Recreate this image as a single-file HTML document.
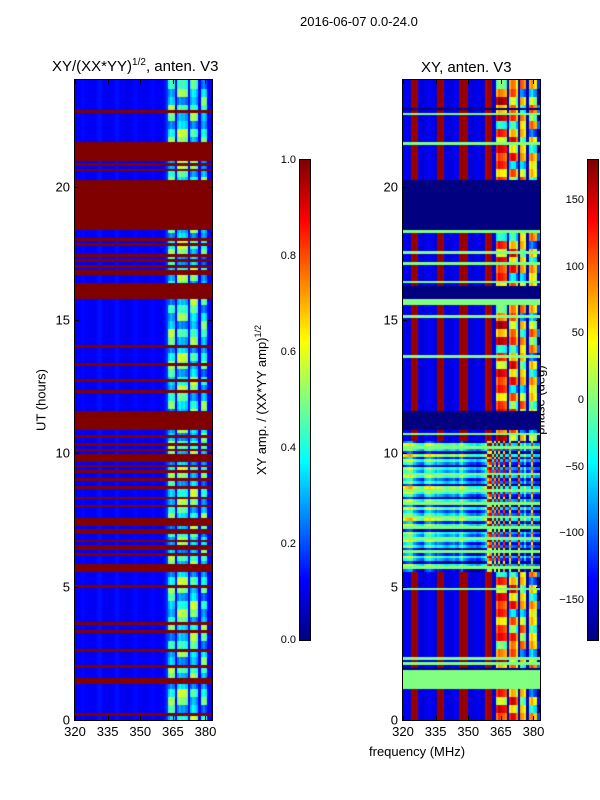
<!DOCTYPE html>
<html><head><meta charset="utf-8">
<style>
body{margin:0;background:#fff;width:600px;height:800px;position:relative;overflow:hidden;font-family:"Liberation Sans","DejaVu Sans",sans-serif;color:#000}
.t{position:absolute;white-space:nowrap;font-size:13px}
.tk{position:absolute;font-size:13px;white-space:nowrap}
.ctk{position:absolute;font-size:11px;white-space:nowrap}
canvas{position:absolute}
.frame{position:absolute;border:1px solid #000;box-sizing:border-box;pointer-events:none}
</style></head><body>
<div class="t" style="left:300px;top:14px">2016-06-07 0.0-24.0</div>
<div class="t" style="left:52px;top:57px;font-size:15px">XY/(XX*YY)<sup style="font-size:10px">1/2</sup>, anten. V3</div>
<div class="t" style="left:421px;top:59px;font-size:15px">XY, anten. V3</div>
<div class="t" style="left:41px;top:400px;transform:translate(-50%,-50%) rotate(-90deg)">UT (hours)</div>
<div class="t" style="left:261px;top:400px;transform:translate(-50%,-50%) rotate(-90deg)">XY amp. / (XX*YY amp)<sup style="font-size:9px">1/2</sup></div>
<div class="t" style="left:540px;top:400px;transform:translate(-50%,-50%) rotate(-90deg)">phase (deg)</div>
<div class="t" style="left:369px;top:744px">frequency (MHz)</div>

<canvas id="left" width="137" height="640" style="left:75px;top:80px"></canvas>
<canvas id="right" width="137" height="640" style="left:403px;top:80px"></canvas>
<canvas id="cb1" width="10" height="480" style="left:300px;top:160px"></canvas>
<canvas id="cb2" width="10" height="480" style="left:588px;top:160px"></canvas>
<div class="frame" style="left:74px;top:79px;width:139px;height:642px"></div>
<div class="frame" style="left:402px;top:79px;width:139px;height:642px"></div>
<div class="frame" style="left:299px;top:159px;width:12px;height:482px"></div>
<div class="frame" style="left:587px;top:159px;width:12px;height:482px"></div>
<div id="ticks"></div>

<script>
// ---- data ----
const hours = [0,5,10,15,20];
const freqTicks = [320,335,350,365,380];
const ampTicks = [0.0,0.2,0.4,0.6,0.8,1.0];
const phaseTicks = [-150,-100,-50,0,50,100,150];
const fMin = 320, fMax = 383, tMin = 0, tMax = 24;
// left amplitude profile per MHz (320..382)
const ampProfile = [0.11,0.12,0.12,0.13,0.13,0.12,0.12,0.11,0.11,0.12,0.13,0.14,0.13,0.12,0.11,0.11,0.11,0.12,0.13,0.14,0.13,0.12,0.11,0.1,0.11,0.11,0.12,0.13,0.13,0.12,0.12,0.11,0.11,0.11,0.12,0.13,0.13,0.12,0.12,0.11,0.12,0.14,0.18,0.3,0.36,0.32,0.12,0.33,0.38,0.34,0.36,0.32,0.12,0.32,0.38,0.36,0.3,0.12,0.3,0.34,0.28,0.12,0.12];
// patch variation for high-freq region, per 0.3h block
const ampRowPattern = [0.0,0.12,0.2,0.05,-0.08,0.15,0.22,0.0,-0.05,0.1,-0.1,0.18,0.08,-0.04];
// left flagged (dark red) bands, hours [start,end]
const ampFlags = [[22.8,22.92],[21.0,21.67],[20.8,20.9],[20.6,20.68],[18.37,20.3],[18.05,18.13],[17.8,17.88],[17.45,17.53],[17.25,17.33],[17.0,17.12],[16.7,16.95],[15.8,16.4],[15.7,15.75],[14.0,14.06],[13.3,13.38],[12.75,12.85],[12.3,12.36],[10.9,11.6],[10.6,10.75],[10.35,10.45],[10.1,10.18],[9.75,10.0],[9.5,9.62],[9.3,9.42],[9.0,9.1],[8.7,8.85],[8.35,8.45],[8.0,8.06],[7.3,7.6],[7.05,7.2],[6.75,6.82],[6.45,6.56],[6.2,6.28],[5.6,5.9],[5.0,5.1],[3.6,3.72],[3.3,3.36],[2.6,2.66],[2.05,2.12],[1.45,1.57],[0.2,0.28]];
// right phase profile per MHz (deg)
const phaseProfile = [-140,-138,-140,-145,170,175,170,-140,-145,-150,-145,-140,-138,-140,-145,-150,170,175,170,-140,-145,-150,-145,-140,-138,-140,170,175,172,170,-140,-150,-148,-145,-140,-142,-150,-148,160,172,168,-150,-150,90,120,110,100,90,-160,70,100,90,40,-160,60,50,30,-160,40,60,30,20,-150];
const phaseRowPattern = [0,40,-80,20,-140,50,-40,60,-20,-110,30,10,-60,20];
// noisy interval on right (hours) uses alternative profile
const phaseNoisy = [[5.6,10.5]];
const noisyProfile = [-40,-30,-20,-10,-20,-60,-80,-90,-100,-110,-60,-40,-30,-50,-60,-80,-60,-70,-80,-90,-100,-90,-80,-70,-90,-100,-60,-40,-80,-100,-110,-120,-120,-110,-130,-120,-100,-90,-60,80,120,-100,100,-130,110,-120,140,-130,-140,60,-120,-130,-140,120,-100,-130,-60,-140,-120,60,-130,-150,-150];
const noisyRowPattern = [0,60,-40,90,-80,30,-20,70,-60,10,50,-90];
// right flagged bands: navy = -180, green = 0
const phaseNavy = [[22.92,23.0],[21.6,21.65],[18.4,20.3],[17.0,17.05],[15.85,16.35],[10.9,11.6],[13.3,13.35],[9.0,9.05],[5.0,5.05],[3.6,3.65],[1.1,1.15],[1.95,2.0]];
const phaseGreen = [[22.7,22.85],[21.65,21.72],[20.3,20.35],[18.3,18.37],[17.55,17.6],[17.15,17.2],[16.4,16.5],[15.6,15.8],[15.1,15.17],[13.65,13.72],[10.75,10.85],[10.2,10.26],[9.2,9.3],[8.6,8.66],[8.1,8.16],[7.6,7.68],[7.2,7.26],[6.85,6.95],[6.35,6.42],[5.7,5.76],[4.9,4.96],[2.35,2.42],[2.15,2.22],[1.2,1.9]];

// ---- drawing ----
function jet(v){v=Math.max(0,Math.min(1,v));
  const r=Math.max(0,Math.min(1,1.5-Math.abs(4*v-3))),g=Math.max(0,Math.min(1,1.5-Math.abs(4*v-2))),b=Math.max(0,Math.min(1,1.5-Math.abs(4*v-1)));
  return 'rgb('+Math.round(r*255)+','+Math.round(g*255)+','+Math.round(b*255)+')';}
const W=137,H=640;
const xOf=f=>(f-fMin)/(fMax-fMin)*W;
const yOf=t=>H-(t-tMin)/(tMax-tMin)*H;
const inB=(t,arr)=>arr.some(b=>t>=b[0]&&t<b[1]);
const dt=0.1;
function draw(id,valFn){
  const ctx=document.getElementById(id).getContext('2d');
  for(let r=0;r<240;r++){const t=r*dt+dt/2;
    for(let c=0;c<63;c++){ctx.fillStyle=valFn(t,c,r);
      const x0=xOf(fMin+c),x1=xOf(fMin+c+1),y0=yOf(t+dt/2),y1=yOf(t-dt/2);
      ctx.fillRect(Math.floor(x0),Math.floor(y0),Math.ceil(x1-x0)+1,Math.ceil(y1-y0)+1);}}
}
draw('left',(t,c,r)=>{
  if(inB(t,ampFlags))return jet(1.0);
  let v=ampProfile[c];
  if(c>=42&&v>0.2){const blk=Math.floor(r/3)+Math.floor((c-42)/5)*3;v+=ampRowPattern[blk%ampRowPattern.length];}
  return jet(v);});
draw('right',(t,c,r)=>{
  if(inB(t,phaseNavy))return jet(0);
  if(inB(t,phaseGreen))return jet(0.5);
  let p;
  if(inB(t,phaseNoisy)){p=noisyProfile[c]+noisyRowPattern[r%noisyRowPattern.length];}
  else{p=phaseProfile[c];if(c>=43&&p>-155){const blk=Math.floor(r/3)+Math.floor((c-43)/5)*5;p+=phaseRowPattern[blk%phaseRowPattern.length];}}
  p=Math.max(-180,Math.min(180,p));
  return jet((p+180)/360);});
['cb1','cb2'].forEach(id=>{const ctx=document.getElementById(id).getContext('2d');
  for(let y=0;y<480;y++){ctx.fillStyle=jet(1-y/480);ctx.fillRect(0,y,10,1);}});

const tk=document.getElementById('ticks');
function lab(cls,txt,x,y,tf,name){const d=document.createElement('div');d.className=cls;d.textContent=txt;
  d.style.left=x+'px';d.style.top=y+'px';d.style.transform=tf;
  
  
  tk.appendChild(d);}
function line(x,y,w,h,name){const d=document.createElement('div');d.style.cssText='position:absolute;background:#000;left:'+x+'px;top:'+y+'px;width:'+w+'px;height:'+h+'px';
  
  
  tk.appendChild(d);}
[75,403].forEach((px,i)=>{
  hours.forEach(h=>{const y=80+yOf(h);lab('tk',h,px-5,y,'translate(-100%,-50%)','y-tick-label');line(px,y,4,1,'y-tick');line(px+133,y,4,1,'y-tick');});
  freqTicks.forEach(f=>{const x=px+xOf(f);lab('tk',f,x,724,'translate(-50%,0)','x-tick-label');line(x,716,1,4,'x-tick');line(x,80,1,4,'x-tick');});
});
ampTicks.forEach(v=>{const y=160+480*(1-v);lab('ctk',v.toFixed(1),296,y,'translate(-100%,-50%)','amp-colorbar-tick-label');});
phaseTicks.forEach(v=>{const y=160+480*(1-(v+180)/360);lab('ctk',v<0?'\u2212'+(-v):v,584,y,'translate(-100%,-50%)','phase-colorbar-tick-label');});
</script>
</body></html>
